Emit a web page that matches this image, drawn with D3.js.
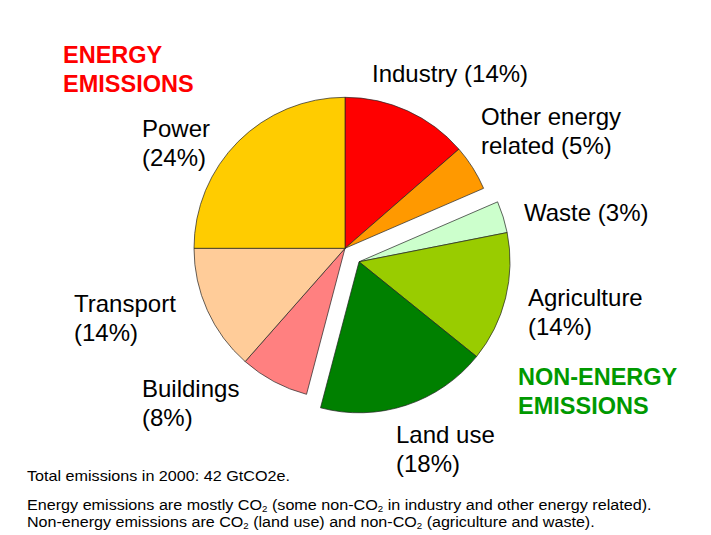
<!DOCTYPE html>
<html>
<head>
<meta charset="utf-8">
<script src="https://cdn.jsdelivr.net/npm/d3@7"></script>
<style>
  html, body { margin: 0; padding: 0; background: #fff; }
  svg { display: block; }
  text { font-family: "Liberation Sans", Arial, sans-serif; }
</style>
</head>
<body>
<svg id="chart" width="711" height="535"></svg>
<script>
// ---- Data ----
const categories = ["Industry", "Other energy related", "Waste", "Agriculture", "Land use", "Buildings", "Transport", "Power"];
const shares     = [13.6, 4.9, 3.4, 13.9, 18.3, 7.4, 13.5, 25.0];   // slice sizes
const groups     = ["energy", "energy", "non-energy", "non-energy", "non-energy", "energy", "energy", "energy"];
const labelLines = [
  ["Industry (14%)"],
  ["Other energy", "related (5%)"],
  ["Waste (3%)"],
  ["Agriculture", "(14%)"],
  ["Land use", "(18%)"],
  ["Buildings", "(8%)"],
  ["Transport", "(14%)"],
  ["Power", "(24%)"]
];
const colors = ["#FF0000", "#FF9900", "#CCFFCC", "#99CC00", "#008000", "#FF8080", "#FFCC99", "#FFCC00"];
const groupTitles = { "energy": ["ENERGY", "EMISSIONS"], "non-energy": ["NON-ENERGY", "EMISSIONS"] };
const footnoteTotal = "Total emissions in 2000: 42 GtCO2e.";

// ---- Layout ----
const W = 711, H = 535;
const cx = 345, cy = 248.3, R = 151;
const explode = { dx: 14, dy: 13.5 };
const labelPos = {
  "Industry": [372, 82],
  "Other energy related": [481, 125],
  "Waste": [524, 221],
  "Agriculture": [528, 306],
  "Land use": [396, 443],
  "Buildings": [142, 397],
  "Transport": [74, 312],
  "Power": [142, 137]
};
const lineH = 29;

const svg = d3.select("#chart");
svg.append("rect").attr("width", W).attr("height", H).attr("fill", "#fff");

const data = categories.map((c, i) => ({ name: c, value: shares[i], group: groups[i], color: colors[i], lines: labelLines[i] }));

const pie = d3.pie().value(d => d.value).sort(null).startAngle(0).endAngle(2 * Math.PI);
const arc = d3.arc().innerRadius(0).outerRadius(R);
const arcs = pie(data);

const g = svg.append("g").attr("transform", `translate(${cx},${cy})`);
g.selectAll("path")
  .data(arcs)
  .join("path")
  .attr("transform", d => d.data.group === "non-energy" ? `translate(${explode.dx},${explode.dy})` : null)
  .attr("d", arc)
  .attr("fill", d => d.data.color)
  .attr("stroke", "#222")
  .attr("stroke-width", 0.7)
  .attr("stroke-linejoin", "round");

// Slice labels
data.forEach(d => {
  const [x, y] = labelPos[d.name];
  const t = svg.append("text")
    .attr("x", x).attr("y", y)
    .attr("font-size", 24)
    .attr("fill", "#000");
  d.lines.forEach((ln, i) => {
    t.append("tspan").attr("x", x).attr("y", y + i * lineH).text(ln);
  });
});

// Group titles
function groupTitle(lines, x, y, color) {
  const t = svg.append("text").attr("x", x).attr("y", y)
    .attr("font-size", 23.5).attr("font-weight", "bold").attr("fill", color);
  lines.forEach((ln, i) => t.append("tspan").attr("x", x).attr("y", y + i * lineH).text(ln));
}
groupTitle(groupTitles["energy"], 63, 63, "#FF0000");
groupTitle(groupTitles["non-energy"], 518, 385, "#009900");

// Footnotes
function footnote(parts, x, y, targetW) {
  const t = svg.append("text").attr("x", x).attr("y", y).attr("font-size", 15).attr("fill", "#000");
  parts.forEach(p => {
    const s = t.append("tspan").text(p.t);
    if (p.sub) s.attr("font-size", 9).attr("dy", 2);
    else if (p.after) s.attr("dy", -2);
  });
  const w = t.node().getComputedTextLength();
  const k = targetW / w;
  t.attr("transform", `translate(${x},0) scale(${k},1) translate(${-x},0)`);
}
footnote([{ t: footnoteTotal }], 27, 481, 263);
footnote([
  { t: "Energy emissions are mostly CO" }, { t: "2", sub: true },
  { t: " (some non-CO", after: true }, { t: "2", sub: true },
  { t: " in industry and other energy related).", after: true }
], 27, 510, 625);
footnote([
  { t: "Non-energy emissions are CO" }, { t: "2", sub: true },
  { t: " (land use) and non-CO", after: true }, { t: "2", sub: true },
  { t: " (agriculture and waste).", after: true }
], 27, 527.5, 568);
</script>
</body>
</html>
